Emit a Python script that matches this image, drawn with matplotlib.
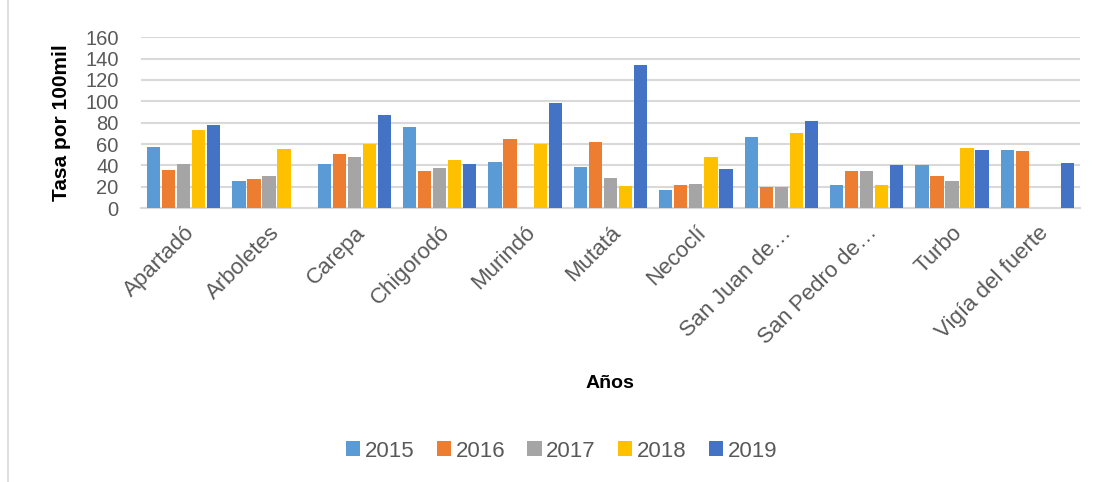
import numpy as np
import matplotlib
matplotlib.use("Agg")
import matplotlib.pyplot as plt
from matplotlib.patches import Patch
from matplotlib.lines import Line2D

municipios = ["Apartadó", "Arboletes", "Carepa", "Chigorodó", "Murindó", "Mutatá",
              "Necoclí", "San Juan de…", "San Pedro de…", "Turbo", "Vigía del fuerte"]
years = ["2015", "2016", "2017", "2018", "2019"]
v2015 = [57, 25, 41, 75.5, 43.5, 39, 17.5, 67, 22, 40, 54]
v2016 = [35.5, 27, 50.5, 34.5, 64.5, 61.5, 22, 19.5, 34.5, 30, 53.5]
v2017 = [41, 30.5, 48, 37.5, 0, 28, 23, 19.5, 34.5, 25, 0]
v2018 = [73.5, 55, 60.5, 45.5, 60.5, 21, 47.5, 70, 22, 56.5, 0]
v2019 = [78, 0, 87, 41, 98, 133.5, 37, 82, 40.5, 54, 42.5]
series = [v2015, v2016, v2017, v2018, v2019]
colors = ["#5B9BD5", "#ED7D31", "#A5A5A5", "#FFC000", "#4472C4"]

plt.rcParams["font.family"] = ["Liberation Sans", "DejaVu Sans"]
fig = plt.figure(figsize=(11.01, 4.82), dpi=100)
ax = fig.add_axes([0.128, 0.568, 0.853, 0.355])

x = np.arange(len(municipios))
pitch = 0.176
width = 0.155
for i, (vals, c) in enumerate(zip(series, colors)):
    offs = (i - 2) * pitch
    ax.bar(x + offs, vals, width=width, color=c, zorder=3)

ax.set_xlim(-0.5, len(municipios) - 0.5)
ax.set_ylim(0, 160)
ax.set_yticks(np.arange(0, 161, 20))
ax.yaxis.grid(True, color="#D9D9D9", linewidth=1.5, zorder=0)
for s in ["top", "right", "left"]:
    ax.spines[s].set_visible(False)
ax.spines["bottom"].set_color("#D9D9D9")
ax.spines["bottom"].set_linewidth(1.5)
ax.tick_params(axis="both", length=0, colors="#595959")
ax.tick_params(axis="y", labelsize=14.5, pad=16)
ax.set_xticks(x)
ax.set_xticklabels(municipios, rotation=45, ha="right", rotation_mode="anchor",
                   fontsize=16, color="#595959")
ax.tick_params(axis="x", pad=10)

ax.set_ylabel("Tasa por 100mil", fontsize=15, fontweight="bold", color="black", labelpad=10)
fig.text(0.554, 0.205, "Años", ha="center", va="center", fontsize=14, fontweight="bold")

handles = [Patch(facecolor=c, edgecolor="none") for c in colors]
fig.legend(handles, years, loc="center", bbox_to_anchor=(0.51, 0.064), ncol=5,
           frameon=False, fontsize=16, labelcolor="#595959", handlelength=0.65,
           handleheight=0.65, handletextpad=0.2, columnspacing=1.0)

fig.add_artist(Line2D([0.0075, 0.0075], [0.0, 1.0], transform=fig.transFigure,
                      color="#D9D9D9", linewidth=1.2))

fig.savefig("out.png", dpi=100)
